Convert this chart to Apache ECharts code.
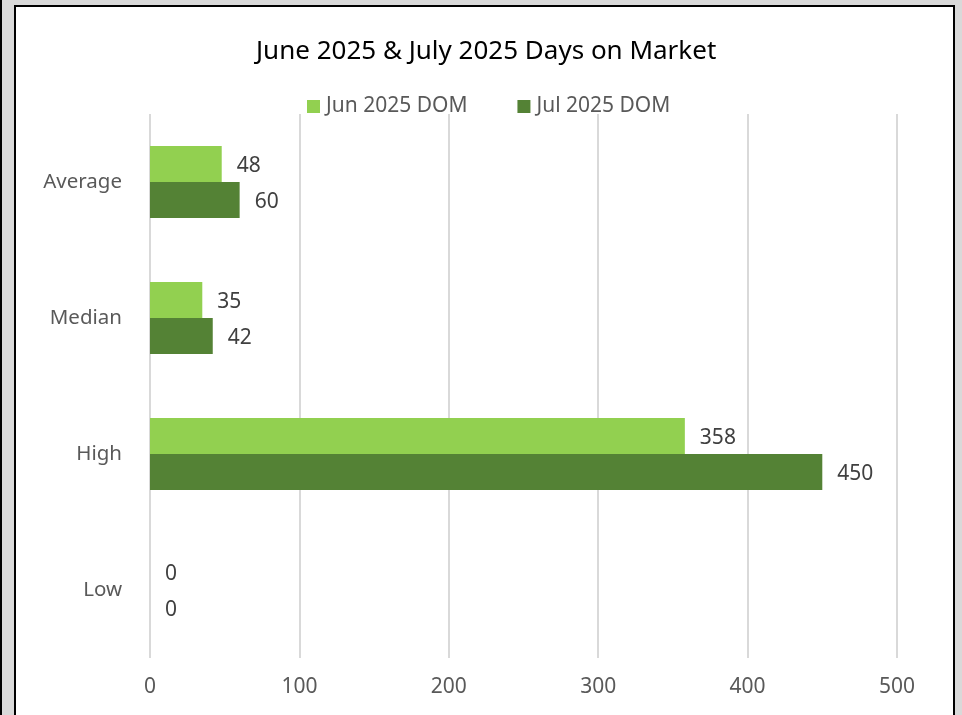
<!DOCTYPE html>
<html><head><meta charset="utf-8">
<script src="https://cdn.jsdelivr.net/npm/echarts@6/dist/echarts.min.js"></script>
<style>
html,body{margin:0;padding:0;width:962px;height:715px;overflow:hidden;background:#d9d9d9;}
#leftline{position:absolute;left:0;top:0;width:2px;height:715px;background:#000;}
#frame{position:absolute;left:14px;top:5px;width:937px;height:730px;border:2px solid #000;background:#fff;}
#chart{position:absolute;left:0;top:0;width:962px;height:715px;}
</style></head>
<body>
<div id="leftline"></div>
<div id="frame"></div>
<div id="chart"></div>
<script>
const title = 'June 2025 & July 2025 Days on Market';
const categories = ['Average', 'Median', 'High', 'Low'];
const seriesNames = ['Jun 2025 DOM', 'Jul 2025 DOM'];
const junValues = [48, 35, 358, 0];
const julValues = [60, 42, 450, 0];
const xTicks = [0, 100, 200, 300, 400, 500];

const FONT = 'Noto Sans';
const chart = echarts.init(document.getElementById('chart'), null, {renderer: 'canvas'});
const lbl = {show: true, position: 'right', distance: 15, offset: [0, 2], color: '#404040', fontSize: 21, fontFamily: FONT};
chart.setOption({
  backgroundColor: 'transparent',
  animation: false,
  title: {text: title, left: 256, top: 39, padding: 0, textStyle: {fontFamily: FONT, fontSize: 26, fontWeight: 'normal', color: '#000'}},
  legend: {top: 91, left: 302, itemWidth: 13, itemHeight: 13, itemGap: 50, icon: 'rect',
    textStyle: {fontFamily: FONT, fontSize: 21, color: '#595959', padding: [0, 0, 0, 1]}, data: seriesNames},
  grid: {left: 150, right: 65, top: 114, bottom: 57, containLabel: false},
  xAxis: {type: 'value', min: xTicks[0], max: xTicks[xTicks.length-1], interval: 100,
    axisLine: {show: false}, axisTick: {show: false},
    splitLine: {lineStyle: {color: '#d9d9d9', width: 2}},
    axisLabel: {margin: 19, fontFamily: FONT, fontSize: 21, color: '#595959'}},
  yAxis: {type: 'category', data: categories, inverse: true,
    axisLine: {show: false}, axisTick: {show: false},
    axisLabel: {margin: 28, fontFamily: FONT, fontSize: 20.5, color: '#595959'}},
  series: [
    {name: seriesNames[0], type: 'bar', data: junValues, barWidth: 36, barGap: '0%', itemStyle: {color: '#92d050'}, label: lbl},
    {name: seriesNames[1], type: 'bar', data: julValues, barWidth: 36, barGap: '0%', itemStyle: {color: '#548235'}, label: lbl}
  ]
});
</script>
</body></html>
